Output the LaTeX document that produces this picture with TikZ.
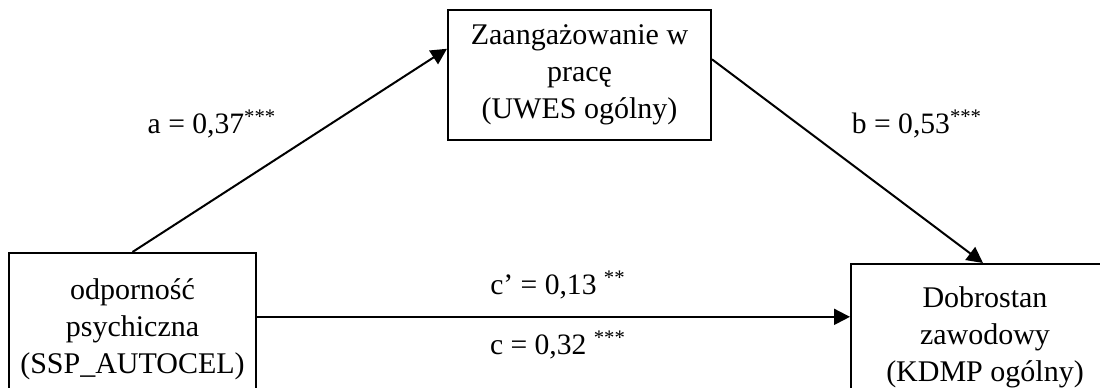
\documentclass[tikz,border=0pt]{standalone}
\usepackage{fontspec}
\setmainfont{Liberation Serif}
\usetikzlibrary{arrows.meta,calc}

\tikzset{
  varbox/.style={draw, line width=1pt, inner sep=0pt, align=center,
    font=\fontsize{15}{18.5}\selectfont},
  coef/.style={inner sep=0pt, font=\fontsize{14.8}{18.5}\selectfont},
  pathline/.style={line width=1pt, -{Triangle[length=8pt,width=8pt]}}
}

\begin{document}
\begin{tikzpicture}[x=0.5pt,y=-0.5pt]
  \useasboundingbox (0,0) rectangle (1100,387);
  % variables
  \node[varbox, minimum width=131.5pt, minimum height=65pt] (mid) at (579.5,74.5)
    {Zaangażowanie w\\pracę\\(UWES ogólny)};
  \node[varbox, minimum width=123.5pt, minimum height=76pt] (left) at (132.5,329)
    {odporność\\psychiczna\\(SSP\_AUTOCEL)};
  \node[varbox, minimum width=134pt, minimum height=73pt] (right) at (985,337)
    {Dobrostan\\zawodowy\\(KDMP ogólny)};
  % paths
  \coordinate (aend) at ($(mid.north west)!0.305!(mid.south west)$);
  \coordinate (bstart) at ($(mid.north east)!0.385!(mid.south east)$);
  \coordinate (cstart) at ($(left.north east)!0.421!(left.south east)$);
  \draw[pathline] (left.north) -- (aend);
  \draw[pathline] (bstart) -- ($(right.north)+(-2,0)$);
  \draw[pathline] (cstart) -- (cstart -| right.west);
  % coefficients
  \node[coef] (la) at (212,124) {a = 0,37\textsuperscript{***}};
  \node[coef] (lb) at (917,124) {b = 0,53\textsuperscript{***}};
  \node[coef] (lc1) at (558,285) {c’ = 0,13 \textsuperscript{**}};
  \node[coef] (lc) at (558,345) {c = 0,32 \textsuperscript{***}};
\end{tikzpicture}
\end{document}
